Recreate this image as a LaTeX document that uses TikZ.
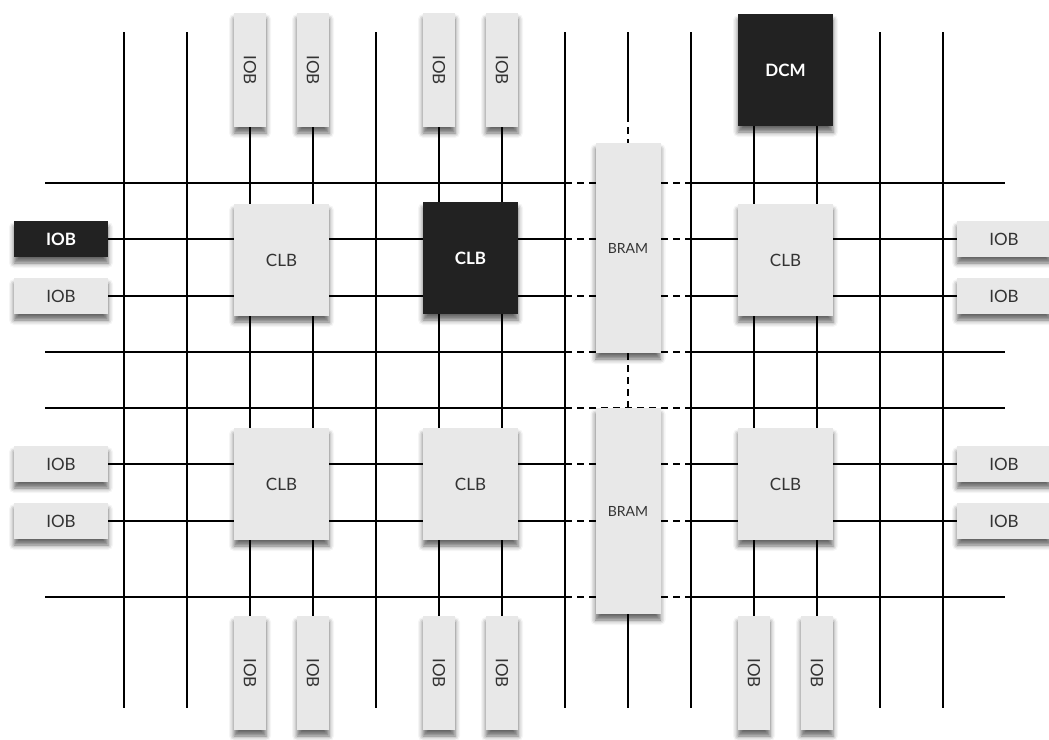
\documentclass[tikz,border=0pt]{standalone}
\usepackage{fontspec}
\setmainfont{Lato}
\usetikzlibrary{shadows.blur,backgrounds}
\definecolor{cellgray}{HTML}{E8E8E8}
\definecolor{celldark}{HTML}{222222}
\tikzset{
  cell/.style={fill=cellgray, text=black!80, inner sep=0pt,
    font=\fontsize{17}{17}\selectfont,
    blur shadow={shadow xshift=0pt, shadow yshift=-6pt, shadow blur radius=5pt, shadow opacity=60}},
  hot/.style={fill=celldark, text=white, font=\fontsize{17}{17}\selectfont\bfseries},
  clbbox/.style={cell, minimum width=95pt, minimum height=112pt},
  iobh/.style={cell, minimum width=94pt, minimum height=36pt},
  iobv/.style={cell, minimum width=32pt, minimum height=114pt},
  brambox/.style={cell, minimum width=65pt, font=\fontsize{14}{14}\selectfont},
  wire/.style={line width=1.5pt},
  dwire/.style={wire, dash pattern=on 7pt off 5pt},
}
\begin{document}
\begin{tikzpicture}[x=1pt, y=-1pt]
\useasboundingbox (0,0) rectangle (1049,739);
% top and bottom IOBs
\foreach \n/\x in {1/250,2/313,3/439,4/502}
  \node[iobv] (iobT\n) at (\x,70) {\rotatebox{-90}{IOB}};
\foreach \n/\x in {1/250,2/313,3/439,4/502,5/754,6/817}
  \node[iobv] (iobB\n) at (\x,673) {\rotatebox{-90}{IOB}};
% side IOBs
\node[iobh, hot] (iobL1) at (61,239) {IOB};
\node[iobh] (iobL2) at (61,296) {IOB};
\node[iobh] (iobL3) at (61,464) {IOB};
\node[iobh] (iobL4) at (61,521) {IOB};
\foreach \n/\y in {1/239,2/296,3/464,4/521}
  \node[iobh] (iobR\n) at (1004,\y) {IOB};
% logic blocks
\node[clbbox] (clb1) at (281.5,260) {CLB};
\node[clbbox, hot] (clb2) at (470.5,258) {CLB};
\node[clbbox] (clb3) at (785.5,260) {CLB};
\node[clbbox] (clb4) at (281.5,484) {CLB};
\node[clbbox] (clb5) at (470.5,484) {CLB};
\node[clbbox] (clb6) at (785.5,484) {CLB};
\node[clbbox, hot] (dcm) at (785.5,70) {DCM};
\node[brambox, minimum height=210pt] (bram1) at (628,248) {BRAM};
\node[brambox, minimum height=206pt] (bram2) at (628,511) {BRAM};
\coordinate (bl) at (565,0);
\coordinate (br) at (691,0);
% routing
\begin{pgfonlayer}{background}
\foreach \x in {124,187,376,565,691,880,943}
  \draw[wire] (\x,32) -- (\x,708);
\foreach \n in {1,...,4}
  \draw[wire] (iobT\n.south) -- (iobB\n.north);
\draw[wire] (dcm.south -| iobB5.north) -- (iobB5.north);
\draw[wire] (dcm.south -| iobB6.north) -- (iobB6.north);
\draw[wire] (628,32) -- (628,115);
\draw[dwire] (628,115) -- (bram1.north);
\draw[dwire] (bram1.south) -- (bram2.north);
\draw[wire] (bram2.south) -- (628,708);
\foreach \n in {1,...,4} {
  \draw[wire] (iobL\n.east) -- (iobL\n.east -| bl);
  \draw[dwire] (iobL\n.east -| bl) -- (iobL\n.east -| br);
  \draw[wire] (iobL\n.east -| br) -- (iobR\n.west);
}
\foreach \y in {183,352,408,597} {
  \draw[wire] (45,\y) -- (565,\y);
  \draw[dwire] (565,\y) -- (691,\y);
  \draw[wire] (691,\y) -- (1005,\y);
}
\end{pgfonlayer}
\end{tikzpicture}
\end{document}
